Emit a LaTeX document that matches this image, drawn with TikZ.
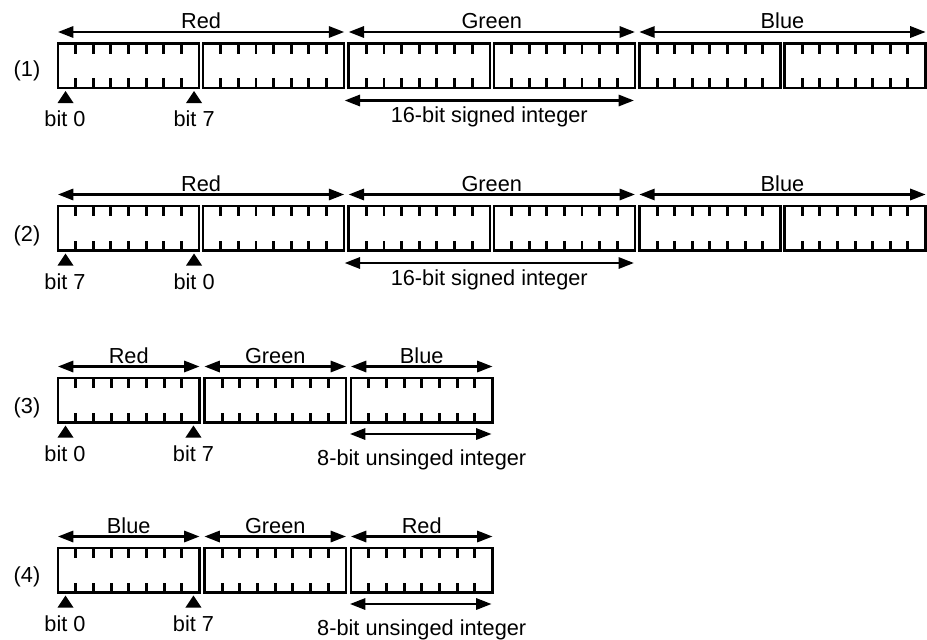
\documentclass[tikz,border=0pt]{standalone}
\usepackage{fontspec}
\setmainfont{Liberation Sans}
\usetikzlibrary{calc,arrows.meta}

\begin{document}
\begin{tikzpicture}[x=0.75pt, y=-0.75pt, font=\fontsize{16.3}{19}\selectfont,
    byte/.style={draw, line width=1.9pt, minimum width=105.8pt, minimum height=33.375pt,
      inner sep=0pt, outer sep=0pt, anchor=north west},
    tick/.style={line width=2.2pt},
    span/.style={line width=1.6pt, {Triangle[length=11.5pt,width=8.5pt]}-{Triangle[length=11.5pt,width=8.5pt]}},
    lbl/.style={anchor=base, inner sep=0pt}]

    \useasboundingbox (0,0) rectangle (927,639);

    % (1) RGB, 16-bit, bit 0 first
    \foreach \b/\x in {1/58,2/203.1,3/348.7,4/493.8,5/639.4,6/784.5}
        \node[byte] (r1b\b) at (\x,43.5) {};
    \node[lbl] (r1num) at (27,76.5) {(1)};
    \draw[span] ($(r1b1.north west)+(0,-11.5)$) -- ($(r1b2.north east)+(0,-11.5)$);
    \draw[span] ($(r1b3.north west)+(0,-11.5)$) -- ($(r1b4.north east)+(0,-11.5)$);
    \draw[span] ($(r1b5.north west)+(0,-11.5)$) -- ($(r1b6.north east)+(0,-11.5)$);
    \node[lbl] (r1red) at ($(r1b1.north west)!0.5!(r1b2.north east)+(0,-15)$) {Red};
    \node[lbl] (r1green) at ($(r1b3.north west)!0.5!(r1b4.north east)+(0,-15)$) {Green};
    \node[lbl] (r1blue) at ($(r1b5.north west)!0.5!(r1b6.north east)+(0,-15)$) {Blue};
    \fill ($(r1b1.south west)+(7.5,3)$) -- ++(8,12) -- ++(-16,0) -- cycle;
    \fill ($(r1b1.south east)+(-5,3)$) -- ++(8,12) -- ++(-16,0) -- cycle;
    \node[lbl] (r1lo) at ($(r1b1.south west)+(7,38.5)$) {bit 0};
    \node[lbl] (r1hi) at ($(r1b1.south east)+(-5,38.5)$) {bit 7};
    \draw[span] ($(r1b3.south west)+(-4,12.5)$) coordinate (r1i) -- ($(r1b4.south east)+(-1,12.5)$) coordinate (r1j);
    \node[lbl] (r1int) at ($(r1i)!0.5!(r1j)+(0,22)$) {16-bit signed integer};

    % (2) RGB, 16-bit, bit 7 first
    \foreach \b/\x in {1/58,2/203.1,3/348.7,4/493.8,5/639.4,6/784.5}
        \node[byte] (r2b\b) at (\x,206) {};
    \node[lbl] (r2num) at (27,241.5) {(2)};
    \draw[span] ($(r2b1.north west)+(0,-11.5)$) -- ($(r2b2.north east)+(0,-11.5)$);
    \draw[span] ($(r2b3.north west)+(0,-11.5)$) -- ($(r2b4.north east)+(0,-11.5)$);
    \draw[span] ($(r2b5.north west)+(0,-11.5)$) -- ($(r2b6.north east)+(0,-11.5)$);
    \node[lbl] (r2red) at ($(r2b1.north west)!0.5!(r2b2.north east)+(0,-15)$) {Red};
    \node[lbl] (r2green) at ($(r2b3.north west)!0.5!(r2b4.north east)+(0,-15)$) {Green};
    \node[lbl] (r2blue) at ($(r2b5.north west)!0.5!(r2b6.north east)+(0,-15)$) {Blue};
    \fill ($(r2b1.south west)+(7.5,3)$) -- ++(8,12) -- ++(-16,0) -- cycle;
    \fill ($(r2b1.south east)+(-5,3)$) -- ++(8,12) -- ++(-16,0) -- cycle;
    \node[lbl] (r2lo) at ($(r2b1.south west)+(7,38.5)$) {bit 7};
    \node[lbl] (r2hi) at ($(r2b1.south east)+(-5,38.5)$) {bit 0};
    \draw[span] ($(r2b3.south west)+(-4,12.5)$) coordinate (r2i) -- ($(r2b4.south east)+(-1,12.5)$) coordinate (r2j);
    \node[lbl] (r2int) at ($(r2i)!0.5!(r2j)+(0,22)$) {16-bit signed integer};

    % (3) RGB, 8-bit
    \foreach \b/\x in {1/58,2/204.5,3/351}
        \node[byte, minimum width=106.1pt] (r3b\b) at (\x,378) {};
    \node[lbl] (r3num) at (27,413) {(3)};
    \draw[span] ($(r3b1.north west)+(0,-11.5)$) -- ($(r3b1.north east)+(0,-11.5)$);
    \draw[span] ($(r3b2.north west)+(0,-11.5)$) -- ($(r3b2.north east)+(0,-11.5)$);
    \draw[span] ($(r3b3.north west)+(0,-11.5)$) -- ($(r3b3.north east)+(0,-11.5)$);
    \node[lbl] (r3red) at ($(r3b1.north)+(0,-15)$) {Red};
    \node[lbl] (r3green) at ($(r3b2.north)+(0,-15)$) {Green};
    \node[lbl] (r3blue) at ($(r3b3.north)+(0,-15)$) {Blue};
    \fill ($(r3b1.south west)+(7.5,3)$) -- ++(8,12) -- ++(-16,0) -- cycle;
    \fill ($(r3b1.south east)+(-6,3)$) -- ++(8,12) -- ++(-16,0) -- cycle;
    \node[lbl] (r3lo) at ($(r3b1.south west)+(7,38.5)$) {bit 0};
    \node[lbl] (r3hi) at ($(r3b1.south east)+(-6,38.5)$) {bit 7};
    \draw[span] ($(r3b3.south west)+(-1,11.5)$) -- ($(r3b3.south east)+(-1,11.5)$);
    \node[lbl] (r3int) at ($(r3b3.south)+(0,42.5)$) {8-bit unsinged integer};

    % (4) BGR, 8-bit
    \foreach \b/\x in {1/58,2/204.5,3/351}
        \node[byte, minimum width=106.1pt] (r4b\b) at (\x,548) {};
    \node[lbl] (r4num) at (27,582.5) {(4)};
    \draw[span] ($(r4b1.north west)+(0,-11.5)$) -- ($(r4b1.north east)+(0,-11.5)$);
    \draw[span] ($(r4b2.north west)+(0,-11.5)$) -- ($(r4b2.north east)+(0,-11.5)$);
    \draw[span] ($(r4b3.north west)+(0,-11.5)$) -- ($(r4b3.north east)+(0,-11.5)$);
    \node[lbl] (r4blue) at ($(r4b1.north)+(0,-15)$) {Blue};
    \node[lbl] (r4green) at ($(r4b2.north)+(0,-15)$) {Green};
    \node[lbl] (r4red) at ($(r4b3.north)+(0,-15)$) {Red};
    \fill ($(r4b1.south west)+(7.5,3)$) -- ++(8,12) -- ++(-16,0) -- cycle;
    \fill ($(r4b1.south east)+(-6,3)$) -- ++(8,12) -- ++(-16,0) -- cycle;
    \node[lbl] (r4lo) at ($(r4b1.south west)+(7,38.5)$) {bit 0};
    \node[lbl] (r4hi) at ($(r4b1.south east)+(-6,38.5)$) {bit 7};
    \draw[span] ($(r4b3.south west)+(-1,11.5)$) -- ($(r4b3.south east)+(-1,11.5)$);
    \node[lbl] (r4int) at ($(r4b3.south)+(0,42.5)$) {8-bit unsinged integer};

    % bit ticks
    \foreach \n in {r1b1,r1b2,r1b3,r1b4,r1b5,r1b6,r2b1,r2b2,r2b3,r2b4,r2b5,r2b6,
                    r3b1,r3b2,r3b3,r4b1,r4b2,r4b3}
        \foreach \k in {1,...,7} {
            \draw[tick] ($(\n.north west)!\k/8!(\n.north east)$) -- ++(0,10);
            \draw[tick] ($(\n.south west)!\k/8!(\n.south east)$) -- ++(0,-10);
        }
\end{tikzpicture}
\end{document}
